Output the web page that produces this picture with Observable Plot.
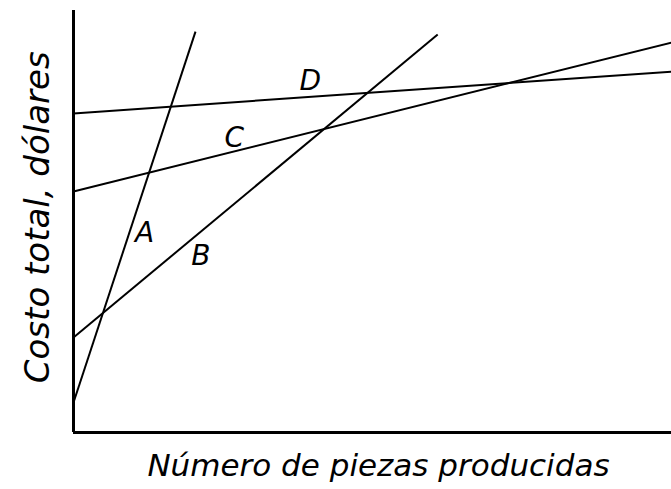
<!DOCTYPE html>
<html>
<head>
<meta charset="utf-8">
<script src="https://cdn.jsdelivr.net/npm/d3@7"></script>
<script src="https://cdn.jsdelivr.net/npm/@observablehq/plot@0.6"></script>
<style>
  html, body { margin: 0; padding: 0; background: #fff; }
  #chart svg { display: block; }
</style>
</head>
<body>
<div id="chart"></div>
<script>
// Series (straight cost lines) — start and end points in data units (0–100)
const series = ["A", "B", "C", "D"];
const startX = [0, 0, 0, 0];
const startY = [7.1, 22.5, 57.1, 75.6];
const endX = [20.4, 60.9, 100, 100];
const endY = [95.0, 94.3, 92.4, 85.5];
// Hand-written label anchors
const labelX = [11.9, 21.3, 26.9, 39.6];
const labelY = [47.2, 41.7, 69.7, 83.4];
// Axis titles
const xTitle = "Número de piezas producidas";
const yTitle = "Costo total, dólares";

const lines = series.map((s, i) => ({s, x1: startX[i], y1: startY[i], x2: endX[i], y2: endY[i]}));
const labels = series.map((s, i) => ({s, x: labelX[i], y: labelY[i]}));

const font = "'DejaVu Sans', sans-serif";

const chart = Plot.plot({
  width: 671,
  height: 489,
  marginLeft: 73,
  marginRight: 0,
  marginTop: 10,
  marginBottom: 57,
  x: {domain: [0, 100], axis: null},
  y: {domain: [0, 100], axis: null},
  style: {background: "#fff", fontFamily: font},
  marks: [
    Plot.ruleX([0], {stroke: "#000", strokeWidth: 3}),
    Plot.ruleY([0], {stroke: "#000", strokeWidth: 3}),
    Plot.link(lines, {x1: "x1", y1: "y1", x2: "x2", y2: "y2", stroke: "#000", strokeWidth: 2}),
    Plot.text(labels, {x: "x", y: "y", text: "s", fontSize: 28, fontStyle: "italic", fill: "#000", fontWeight: 300}),
    Plot.text([xTitle], {x: 51, y: -8, text: d => d, fontSize: 31, fontStyle: "italic", fill: "#000", fontWeight: 300}),
    Plot.text([yTitle], {x: -6, y: 51, text: d => d, rotate: -90, fontSize: 34, fontStyle: "italic", fill: "#000", fontWeight: 300})
  ]
});
document.getElementById("chart").appendChild(chart);
</script>
</body>
</html>
